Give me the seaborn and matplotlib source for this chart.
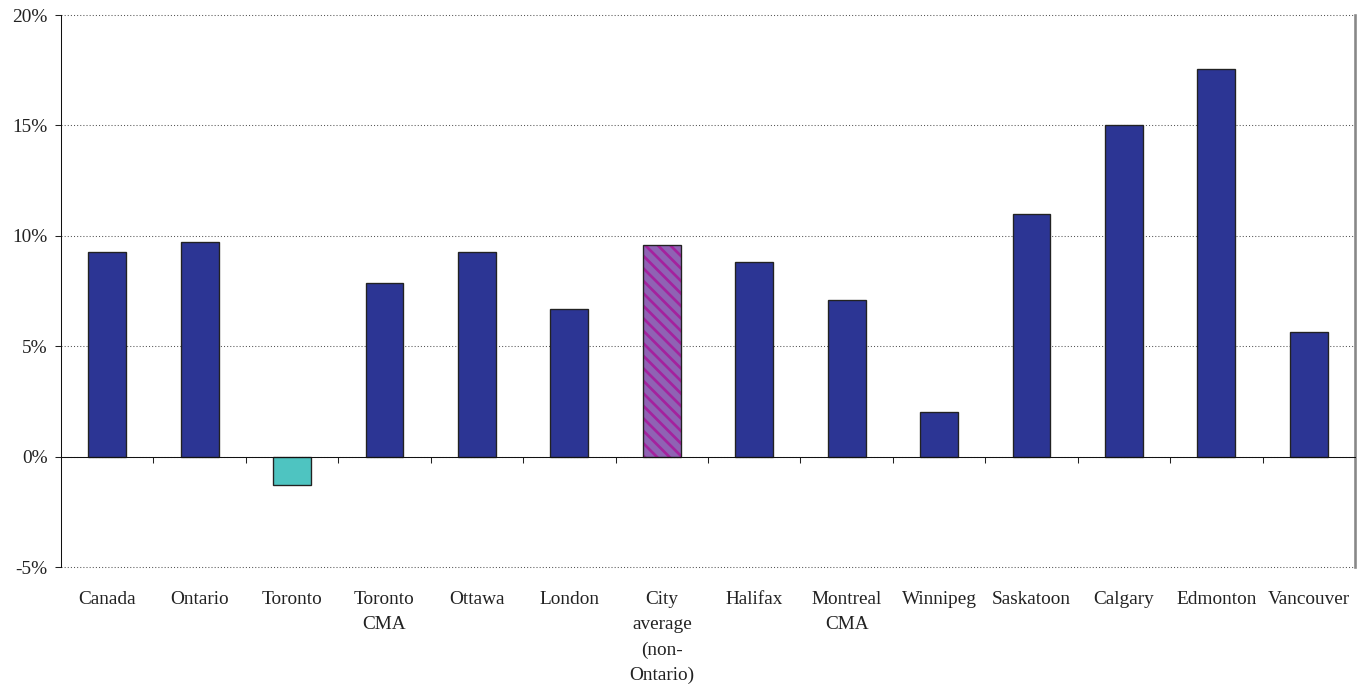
import matplotlib
matplotlib.use("Agg")
import matplotlib.pyplot as plt
import seaborn as sns
import numpy as np
from matplotlib.ticker import FuncFormatter, FixedLocator

# Data: percentage change by jurisdiction
categories = ["Canada", "Ontario", "Toronto", "Toronto\nCMA", "Ottawa", "London",
              "City\naverage\n(non-\nOntario)", "Halifax", "Montreal\nCMA", "Winnipeg",
              "Saskatoon", "Calgary", "Edmonton", "Vancouver"]
values = [9.25, 9.7, -1.3, 7.85, 9.25, 6.7, 9.6, 8.8, 7.1, 2.0, 11.0, 15.0, 17.55, 5.65]
bar_colors = ["#2C3594", "#2C3594", "#4EC4C1", "#2C3594", "#2C3594", "#2C3594",
              "#8F62B4", "#2C3594", "#2C3594", "#2C3594", "#2C3594", "#2C3594",
              "#2C3594", "#2C3594"]
y_ticks = [-5, 0, 5, 10, 15, 20]

DPI = 75
sns.set_theme(style="white")
plt.rcParams["font.family"] = ["Liberation Serif", "DejaVu Serif"]
plt.rcParams["hatch.linewidth"] = 2.6

fig = plt.figure(figsize=(1364 / DPI, 687 / DPI), dpi=DPI)
ax = fig.add_axes([61 / 1364, 1 - 567 / 687, (1355 - 61) / 1364, (567 - 15) / 687])

sns.barplot(x=categories, y=values, hue=categories, palette=bar_colors, legend=False,
            width=0.41, edgecolor="#222222", linewidth=1.3, saturation=1, ax=ax)

# hatched average bar
avg_idx = 6
avg_bar = ax.patches[avg_idx]
avg_bar.set_hatch("\\\\")
if hasattr(avg_bar, "set_hatchcolor"):
    avg_bar.set_hatchcolor("#A4229E")
else:
    avg_bar._hatch_color = matplotlib.colors.to_rgba("#A4229E")

ax.set_xlim(-0.5, len(categories) - 0.5)
ax.set_ylim(-5, 20)
ax.set_xlabel("")
ax.set_ylabel("")

# y axis
ax.yaxis.set_major_locator(FixedLocator(y_ticks))
ax.yaxis.set_major_formatter(FuncFormatter(lambda v, p: f"{v:.0f}%"))
ax.tick_params(axis="y", which="major", direction="out", length=6, width=1,
               color="#222222", labelsize=18.5, labelcolor="#222222", pad=7, left=True)
ax.grid(axis="y", linestyle=(0, (1, 2)), color="#555555", linewidth=1.0)
ax.grid(axis="x", visible=False)
ax.set_axisbelow(True)
for gl in ax.get_ygridlines():
    gl.set_clip_on(False)

# frame
ax.spines["left"].set_color("#111111")
ax.spines["left"].set_linewidth(1.0)
ax.spines["right"].set_color("#888888")
ax.spines["right"].set_linewidth(2.5)
ax.spines["top"].set_visible(False)
ax.spines["bottom"].set_position(("data", 0))
ax.spines["bottom"].set_color("#111111")
ax.spines["bottom"].set_linewidth(1.0)

# x axis: boundary ticks on the zero line, labels below the plot
n = len(categories)
ax.set_xticks(np.arange(n))
ax.set_xticklabels(categories, fontsize=18.5, color="#222222", linespacing=1.62, va="top")
ax.set_xticks(np.arange(n - 1) + 0.5, minor=True)
ax.tick_params(axis="x", which="major", length=0, pad=129, bottom=True)
ax.tick_params(axis="x", which="minor", direction="out", length=6, width=1,
               color="#222222", bottom=True)

fig.savefig("out.png", dpi=DPI, facecolor="white")
